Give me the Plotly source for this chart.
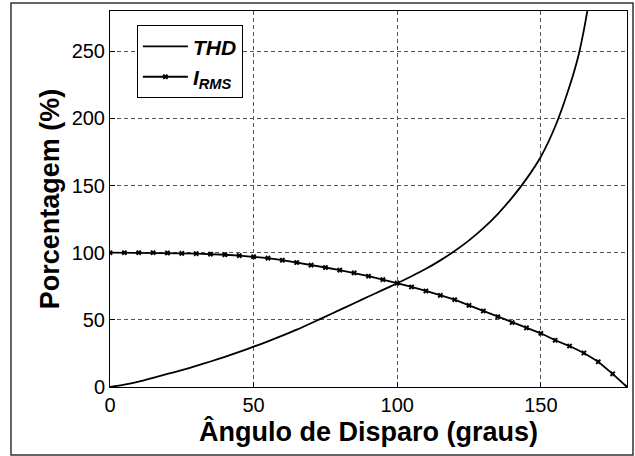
import plotly.graph_objects as go

# Firing angle grid (degrees) used for the RMS current samples
angle_irms = [0, 5, 10, 15, 20, 25, 30, 35, 40, 45, 50, 55, 60, 65, 70, 75, 80, 85, 90,
              95, 100, 105, 110, 115, 120, 125, 130, 135, 140, 145, 150, 155, 160, 165,
              170, 175, 180]
irms = [100, 100, 100, 100, 99.8, 99.5, 99.3, 99.0, 98.5, 97.8, 97.0, 96.0, 94.4, 92.7,
        90.8, 89.0, 87.0, 85.0, 82.5, 80.0, 77.4, 74.5, 71.5, 68.2, 65.0, 60.8, 56.6,
        52.3, 48.0, 44.0, 40.0, 34.8, 30.5, 25.3, 18.8, 9.8, 0.0]

# Total harmonic distortion versus firing angle
angle_thd = [0, 5, 10, 15, 20, 25, 30, 35, 40, 45, 50, 55, 60, 65, 70, 75, 80, 85, 90,
             95, 100, 105, 110, 115, 120, 125, 130, 135, 140, 145, 150, 155, 160, 163,
             165, 167]
thd = [0, 1.8, 4.0, 6.8, 9.7, 12.6, 15.7, 19.0, 22.5, 26.2, 30.0, 34.0, 38.2, 42.7,
       47.5, 52.4, 57.4, 62.4, 67.4, 72.3, 77.3, 82.5, 88.0, 94.3, 101.3, 109.2, 118.3,
       128.8, 141.0, 155.0, 171.5, 194.0, 224.0, 246.0, 266.0, 290.0]

x_ticks = [0, 50, 100, 150]
y_ticks = [0, 50, 100, 150, 200, 250]

FONT = "Liberation Sans, Arial"

fig = go.Figure()
fig.add_trace(go.Scatter(
    x=angle_thd, y=thd, mode="lines", name="<b><i>THD</i></b>",
    line=dict(color="black", width=1.8, shape="spline", smoothing=0.8),
))
fig.add_trace(go.Scatter(
    x=angle_irms, y=irms, mode="lines+markers", name="<b><i>I<sub>RMS</sub></i></b>",
    line=dict(color="black", width=1.8),
    marker=dict(symbol="x", size=5, color="black"),
))

axis_common = dict(
    showline=True, linecolor="black", linewidth=1, mirror=True,
    ticks="inside", ticklen=5, tickcolor="black",
    showgrid=True, gridcolor="#555555", gridwidth=1, griddash="4px,3px",
    zeroline=False,
    tickfont=dict(family=FONT, size=20, color="black"),
)

fig.update_layout(
    width=635, height=456,
    margin=dict(l=110, r=8, t=11, b=69),
    paper_bgcolor="white", plot_bgcolor="white",
    xaxis=dict(
        range=[0, 180], tickvals=x_ticks,
        title=dict(text="<b>Ângulo de Disparo (graus)</b>", standoff=0,
                   font=dict(family=FONT, size=27, color="black")),
        **axis_common,
    ),
    yaxis=dict(
        range=[0, 280], tickvals=y_ticks,
        title=dict(text="<b>Porcentagem (%)</b>", standoff=4,
                   font=dict(family=FONT, size=27, color="black")),
        **axis_common,
    ),
    legend=dict(
        x=0.052, y=0.962, xanchor="left", yanchor="top",
        bgcolor="white", bordercolor="black", borderwidth=1,
        font=dict(family=FONT, size=21, color="black"),
        tracegroupgap=0, itemwidth=45,
    ),
    showlegend=True,
    shapes=[dict(
        type="rect", xref="paper", yref="paper",
        x0=-0.1915, x1=1.0116, y0=-0.181, y1=1.0213,
        line=dict(color="#333333", width=1.5), fillcolor="rgba(0,0,0,0)",
        layer="below",
    )],
)

fig.write_html("out.html")
